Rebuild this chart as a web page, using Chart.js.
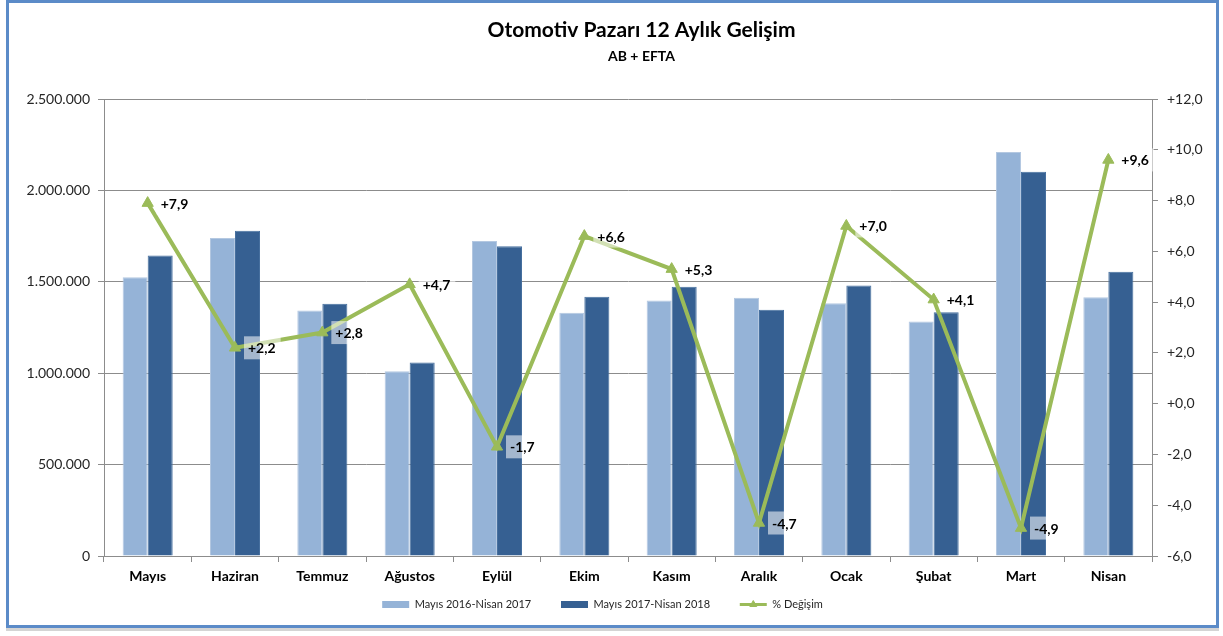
<!DOCTYPE html>
<html>
<head>
<meta charset="UTF-8">
<title>Otomotiv Pazarı 12 Aylık Gelişim</title>
<style>
	body { margin: 0; background: #fff; }
	#wrap { position: relative; width: 1223px; height: 636px; }
	#frame { position: absolute; left: 6px; top: 0; width: 1207px; height: 622px; border: 3px solid #5B8BC8; pointer-events: none; box-shadow: 0 3px 0 #d4d4d4; }
</style>
</head>
<body>
<div id="wrap">
	<canvas id="myChart" width="1223" height="636"></canvas>
	<div id="frame"></div>
</div>
<script src="https://cdn.jsdelivr.net/npm/chart.js"></script>
<script>
	// aylar
	var months = ['Mayıs', 'Haziran', 'Temmuz', 'Ağustos', 'Eylül', 'Ekim', 'Kasım', 'Aralık', 'Ocak', 'Şubat', 'Mart', 'Nisan'];
	var sales1617 = [1525000, 1739000, 1343000, 1011000, 1723000, 1331000, 1398000, 1413000, 1382000, 1283000, 2210000, 1416000];
	var sales1718 = [1644000, 1779000, 1380000, 1059000, 1695000, 1418000, 1473000, 1347000, 1480000, 1334000, 2102000, 1555000];
	var change = [7.9, 2.2, 2.8, 4.7, -1.7, 6.6, 5.3, -4.7, 7.0, 4.1, -4.9, 9.6];
	var seriesNames = ['Mayıs 2016-Nisan 2017', 'Mayıs 2017-Nisan 2018', '% Değişim'];

	var gridGray = '#8c8c8c';
	var green = '#9BBB59';

	function fmtThousands(v) {
		return String(v).replace(/\B(?=(\d{3})+(?!\d))/g, '.');
	}
	function fmtPct(v) {
		return (v < 0 ? '-' : '+') + Math.abs(v).toFixed(1).replace('.', ',');
	}

	Chart.defaults.font.family = 'Lato';

	// basliklari ortala (grafik alanina gore biraz saga)
	var shiftBoxes = {
		id: 'shiftBoxes',
		afterLayout: function(chart) {
			chart.boxes.forEach(function(b) {
				if (b.position === 'top' && b.options && 'text' in b.options) {
					b.left += 31; b.right += 31;
				}
			});
			chart.legend.left -= 8; chart.legend.right -= 8;
		}
	};

	// % degisim etiketleri
	var changeLabels = {
		id: 'changeLabels',
		afterDatasetsDraw: function(chart) {
			var meta = chart.getDatasetMeta(2);
			var ctx = chart.ctx;
			ctx.save();
			ctx.font = 'bold 14px Lato';
			ctx.textBaseline = 'middle';
			meta.data.forEach(function(pt, i) {
				var txt = fmtPct(change[i]);
				var w = ctx.measureText(txt).width;
				ctx.fillStyle = 'rgba(255,255,255,0.55)';
				ctx.fillRect(pt.x + 9, pt.y - 11.5, w + 9, 23);
				ctx.fillStyle = '#000';
				ctx.fillText(txt, pt.x + 13, pt.y + 1);
			});
			ctx.restore();
		},
		afterDraw: function(chart) {
			var lg = chart.legend;
			if (!lg.legendHitBoxes || !lg.legendHitBoxes[2]) return;
			var hb = lg.legendHitBoxes[2];
			var ctx = chart.ctx;
			ctx.save();
			ctx.fillStyle = green;
			ctx.strokeStyle = green;
			Chart.helpers.drawPoint(ctx, {pointStyle: 'triangle', radius: 4, rotation: 0, borderWidth: 1}, hb.left + 13.5, hb.top + hb.height / 2);
			ctx.restore();
		}
	};

	var ctx = document.getElementById('myChart').getContext('2d');
	var chart = new Chart(ctx, {
		type: 'bar',
		data: {
			labels: months,
			datasets: [
				{
					label: seriesNames[0],
					data: sales1617,
					backgroundColor: '#95B3D7',
					borderColor: '#B4C8E1',
					borderWidth: 1,
					order: 1,
					yAxisID: 'y'
				},
				{
					label: seriesNames[1],
					data: sales1718,
					backgroundColor: '#366092',
					borderColor: '#47709F',
					borderWidth: 1,
					order: 1,
					yAxisID: 'y'
				},
				{
					type: 'line',
					label: seriesNames[2],
					data: change,
					borderColor: green,
					backgroundColor: green,
					borderWidth: 4,
					pointStyle: 'triangle',
					pointRadius: 6.5,
					pointBackgroundColor: green,
					pointBorderColor: green,
					pointBorderWidth: 1,
					tension: 0,
					fill: false,
					order: 0,
					yAxisID: 'y1'
				}
			]
		},
		options: {
			responsive: false,
			animation: false,
			datasets: {
				bar: { barPercentage: 1, categoryPercentage: 0.573 }
			},
			layout: { padding: { left: 9, right: 11, top: 0, bottom: 16 } },
			plugins: {
				tooltip: { enabled: false },
				title: {
					display: true,
					text: 'Otomotiv Pazarı 12 Aylık Gelişim',
					color: '#000',
					font: { size: 21, weight: 'bold' },
					padding: { top: 18, bottom: 1 }
				},
				subtitle: {
					display: true,
					text: 'AB + EFTA',
					color: '#000',
					font: { size: 14, weight: 'bold' },
					padding: { top: 4, bottom: 34 }
				},
				legend: {
					position: 'bottom',
					labels: {
						color: '#262626',
						font: { size: 11 },
						usePointStyle: true,
						pointStyleWidth: 27,
						boxHeight: 7,
						padding: 5,
						sort: function(a, b) { return a.datasetIndex - b.datasetIndex; },
						generateLabels: function(chart) {
							var items = Chart.defaults.plugins.legend.labels.generateLabels(chart);
							items.forEach(function(it) {
								if (it.datasetIndex === 2) {
									it.pointStyle = 'line';
									it.strokeStyle = green;
									it.lineWidth = 3;
								} else {
									it.pointStyle = 'rect';
									it.lineWidth = 0;
									it.text += '\u2003\u2003\u2003';
								}
							});
							return items;
						}
					}
				}
			},
			scales: {
				x: {
					grid: { offset: true, drawOnChartArea: false, drawTicks: true, tickLength: 6, color: gridGray },
					border: { color: gridGray },
					ticks: { color: '#000', font: { size: 14, weight: 'bold' }, padding: 6 },
					afterFit: function(s) { s.height = 38; }
				},
				y: {
					position: 'left',
					min: 0,
					max: 2500000,
					ticks: { stepSize: 500000, color: '#262626', font: { size: 14 }, padding: 8, callback: fmtThousands },
					grid: { color: gridGray, tickLength: 6 },
					border: { color: gridGray },
					afterFit: function(s) { s.width = 95; }
				},
				y1: {
					position: 'right',
					min: -6,
					max: 12,
					ticks: { stepSize: 2, color: '#262626', font: { size: 14 }, padding: 9, callback: fmtPct },
					grid: { drawOnChartArea: false, color: gridGray, tickLength: 6 },
					border: { color: gridGray },
					afterFit: function(s) { s.width = 60; }
				}
			}
		},
		plugins: [shiftBoxes, changeLabels]
	});
</script>
</body>
</html>
